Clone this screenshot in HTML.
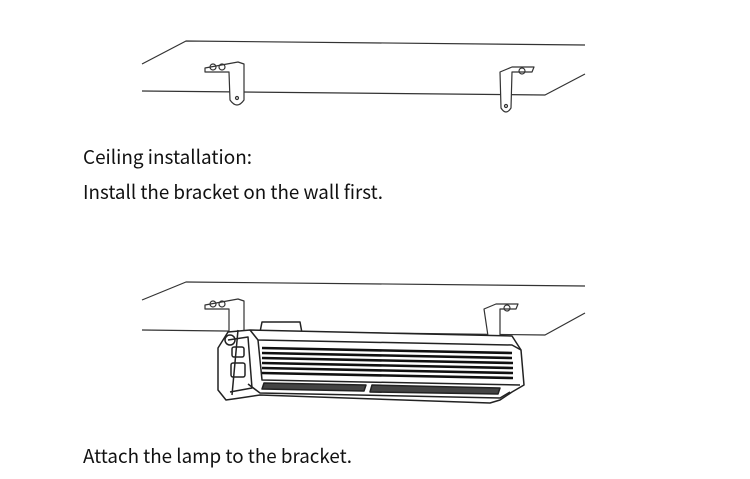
<!DOCTYPE html>
<html><head><meta charset="utf-8"><style>
html,body{margin:0;padding:0;background:#fff;width:750px;height:479px;overflow:hidden}
svg{display:block}
text{font-family:"Noto Sans CJK SC","Liberation Sans",sans-serif;font-size:19px;font-weight:400;fill:#111}
</style></head><body>
<svg width="750" height="479" viewBox="0 0 750 479" xmlns="http://www.w3.org/2000/svg">
<g fill="none" stroke="#333" stroke-width="1.2" stroke-linejoin="round">
<path d="M142 64 L186 41 L585 45"/>
<path d="M142 91 L545 95 L585 74"/>
<path d="M205 68 L238 62 L244 64 L244 100 Q237 110 230 100 L229 72 L205 72 Z" fill="#fff"/>
<circle cx="213" cy="67" r="3"/><circle cx="222" cy="67" r="3"/>
<circle cx="237" cy="98" r="1.5"/>
<path d="M500 72 L512 67 L534 67 L532 72 L512 72 L511 108 Q506 116 501 108 Z" fill="#fff"/>
<circle cx="522" cy="71" r="3"/>
<circle cx="506" cy="106" r="1.5"/>
<path d="M142 300 L186 282 L585 286"/>
<path d="M142 330 L545 335 L585 313"/>
<path d="M205 305 L238 299 L244 301 L244 335 L229 335 L229 309 L205 309 Z" fill="#fff"/>
<circle cx="213" cy="304" r="3"/><circle cx="222" cy="304" r="3"/>
<path d="M484 309 L496 304 L518 304 L516 309 L500 309 L500 336 L488 336 Z" fill="#fff"/>
<circle cx="507" cy="308" r="3"/>
</g>
<g fill="none" stroke="#222" stroke-width="1.5" stroke-linejoin="round">
<path d="M260 332 L262 322 L300 322 L302 333" fill="#fff"/>
<path d="M218 348 L228 332 L250 330 L512 336 L521 350 L524 385 L512 392 L500 400 L490 403 L260 395 L240 398 L226 400 L218 390 Z" fill="#fff"/>
<path d="M250 330 L258 340 L512 345 L521 350"/>
<path d="M258 340 L262 380 L520 385"/>
<path d="M238 330 L232 395"/>
<path d="M228 340 L248 337 L252 388 L230 392"/>
<rect x="232" y="347" width="12" height="10" rx="2"/>
<rect x="231" y="363" width="14" height="14" rx="2"/>
<circle cx="230" cy="340" r="5"/>
<path d="M248 384 L260 393 L500 398 L510 392"/>
<g stroke-width="2.6" stroke="#111">
<line x1="262" y1="348" x2="512" y2="353"/>
<line x1="262" y1="353" x2="512" y2="358"/>
<line x1="262" y1="358" x2="513" y2="363"/>
<line x1="262" y1="363" x2="513" y2="368"/>
<line x1="262" y1="368" x2="513" y2="373"/>
<line x1="262" y1="373" x2="513" y2="378"/>
</g>
<path d="M264 383 L366 385 L364 391 L262 389 Z" fill="#444"/>
<path d="M372 385 L500 388 L498 394 L370 392 Z" fill="#444"/>
</g>
<text x="83" y="164" textLength="169" lengthAdjust="spacingAndGlyphs">Ceiling installation:</text>
<text x="83" y="199" textLength="300" lengthAdjust="spacingAndGlyphs">Install the bracket on the wall first.</text>
<text x="83" y="463" textLength="269" lengthAdjust="spacingAndGlyphs">Attach the lamp to the bracket.</text>
</svg>
</body></html>
